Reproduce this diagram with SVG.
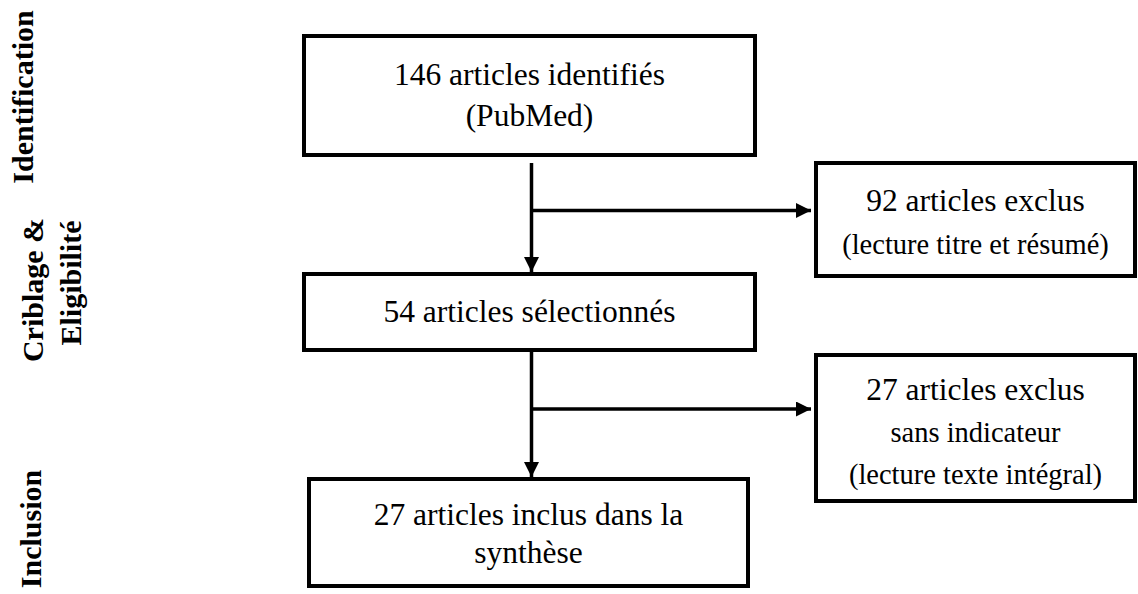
<svg xmlns="http://www.w3.org/2000/svg" width="1138" height="594" viewBox="0 0 1138 594">
  <style>
    .box { fill: #ffffff; stroke: #000000; stroke-width: 4; }
    .txt { font-family: "Liberation Serif", "Times New Roman", serif; font-size: 31.5px; fill: #000000; text-anchor: middle; }
    .sub { font-size: 28.5px; }
    .phase { font-family: "Liberation Serif", "Times New Roman", serif; font-size: 30px; font-weight: bold; fill: #000000; text-anchor: middle; }
    .link { fill: none; stroke: #000000; stroke-width: 3.5; }
  </style>
  <defs>
    <marker id="arrow" markerUnits="userSpaceOnUse" markerWidth="16" markerHeight="16" refX="15" refY="7.5" orient="auto">
      <path d="M0,0 L15,7.5 L0,15 z" fill="#000000"/>
    </marker>
  </defs>

  <rect width="1138" height="594" fill="#ffffff"/>

  <!-- phase labels along the left margin -->
  <g id="phases">
    <text class="phase" transform="translate(33,97) rotate(-90)">Identification</text>
    <text class="phase" transform="translate(43,290) rotate(-90)">Criblage &amp;</text>
    <text class="phase" transform="translate(81,283) rotate(-90)">Eligibilité</text>
    <text class="phase" transform="translate(41,529) rotate(-90)">Inclusion</text>
  </g>

  <g id="connectors">
    <line class="link" x1="531.5" y1="163" x2="531.5" y2="272" marker-end="url(#arrow)"/>
    <line class="link" x1="531.5" y1="210.5" x2="811" y2="210.5" marker-end="url(#arrow)"/>
    <line class="link" x1="531.5" y1="352" x2="531.5" y2="477" marker-end="url(#arrow)"/>
    <line class="link" x1="531.5" y1="409" x2="811" y2="409" marker-end="url(#arrow)"/>
  </g>

  <g id="identified">
    <rect class="box" x="304" y="36" width="451" height="119"/>
    <text class="txt" x="529.5" y="85">146 articles identifiés</text>
    <text class="txt" x="529.5" y="126">(PubMed)</text>
  </g>

  <g id="excluded-screening">
    <rect class="box" x="816" y="163" width="319" height="113"/>
    <text class="txt" x="975.5" y="211">92 articles exclus</text>
    <text class="txt sub" x="975.5" y="254">(lecture titre et résumé)</text>
  </g>

  <g id="selected">
    <rect class="box" x="304" y="274" width="451" height="76"/>
    <text class="txt" x="529.5" y="322">54 articles sélectionnés</text>
  </g>

  <g id="excluded-fulltext">
    <rect class="box" x="816" y="355" width="319" height="146"/>
    <text class="txt" x="975.5" y="400">27 articles exclus</text>
    <text class="txt sub" x="975.5" y="442">sans indicateur</text>
    <text class="txt sub" x="975.5" y="484">(lecture texte intégral)</text>
  </g>

  <g id="included">
    <rect class="box" x="309" y="479" width="439" height="107"/>
    <text class="txt" x="528.5" y="525">27 articles inclus dans la</text>
    <text class="txt" x="528.5" y="563">synthèse</text>
  </g>
</svg>
